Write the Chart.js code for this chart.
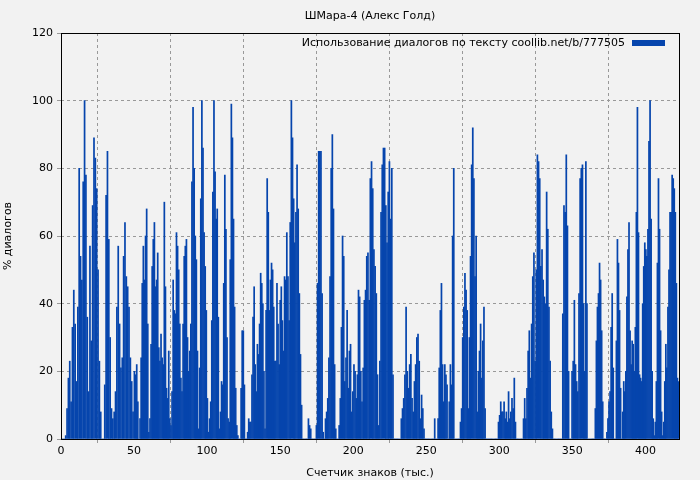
<!DOCTYPE html>
<html><head><meta charset="utf-8">
<script src="https://cdn.jsdelivr.net/npm/chart.js@4"></script>
<style>html,body{margin:0;background:#f2f2f2}</style></head>
<body><canvas id="c" width="700" height="480"></canvas>
<script>
const chartTitle = 'ШМара-4 (Алекс Голд)';
const seriesName = 'Использование диалогов по тексту coollib.net/b/777505';
const xTicks = [0,50,100,150,200,250,300,350,400];
const seg1 = [0,0,0,1,9,18,23,11,33,44,34,17,39,80,54,47,76,100,78,36,14,57,29,69,89,83,74,50,23,8,0,0,16,72,85,59,30,9,6,8,14,39,57,34,21,24,54,64,48,45,39,24,17,8,20];
const seg2 = [19,22,11,0,6,24,46,57,47,60,68,34,2,6,28,51,59,64,45,47,55,27,23,31,24,22,70,45,15,12,26,6,4,14,47,38,37,61,57,50,34,18,14,34,54,57,59,30,20,26,34,76,98,80,60,53,26,3,21,71,100,86,61,51,38,12,2,6];
const seg3 = [11,35,73,100,79,65,68,36,3,8,17,16,46,78,62,30,6,5,53,99,89,65,39,15,4,1,0,0,15,32,32,16,0,0,2,6,5,5,19,36,45,22,14,28,25,34,49,46,40,20,3,38,77,67,38,47,52,50,39,23,23,46,34,22,41,45,35,26,48];
const seg4 = [47,61,48,35,64,100,89,71,58,67,81,68,43,25,10,0,0,0,0,0,6,4,3,0,0,0,0,4,46,85,85,85,43,2,0,6,8,12,24,48,80,90,68,22,3,0,0,4,12,33,60,54,17,24,38,15,26,28,8,14,22,20,12,19,44,42];
const seg5 = [20,11,21,41,44,54,55,41,77,82,74,56,51,43,19,4,23,67,81,86,86,69,58,73,82,65,80,19,0,0,0,0,0,0,6,9,12,19,39,20,15,22,25,12,8,17,22,30,31,23,6,13,9,3,0,0,0,0,0,0,0,0,6];
const seg6 = [0,0,6,21,38,46,22,11,22,19,16,0,11,22,16,60,80,0,0,0,0,0,5,9,30,39,49,44,38,9,30,54,81,92,77,48,60,8,20,26,34,18,29,39,9,0,0,0,0,0,0,0,0,0,0,0,5,7,11,8,8,11,6,8,5,14,6];
const seg7 = [8,12,9,18,5,0,0,0,0,0,0,6,12,6,15,26,32,18,34,48,55,23,50,84,82,77,51,56,47,42,40,73,62,39,23,8,3,0,0,0,0,0,0,0,0,37,69,67,84,63,20,0,0,20,23,41,22,17,14,43,77,80,81,40,20];
const seg8 = [82,40,0,0,0,0,0,0,0,9,29,39,43,52,47,32,11,0,0,0,2,6,11,14,33,43,21,0,0,29,59,52,38,15,0,8,17,14,20,42,56,64,32,22,29,28,20,33,67,98,61,19,18,17,40,51,58,56,54,62,88,100,65,20,6,1,5,17,52,77,62,32,8,1,5,17,28,21,39,50,67,67,78,77,74,67,46,18,17];
const segments = [seg1, seg2, seg3, seg4, seg5, seg6, seg7, seg8];
const segStarts = [0, 50.7, 102.1, 153.4, 204.8, 256.2, 307.5, 358.9];
const xMax = 423;
const values = [].concat(...segments);
const labels = [];
segments.forEach((seg, k) => {
  const a = segStarts[k], b = k + 1 < segStarts.length ? segStarts[k + 1] : xMax;
  seg.forEach((_, j) => labels.push(a + (j + 0.5) * (b - a) / seg.length));
});

const font = {family: 'DejaVu Sans', size: 11};
const overlay = {
  id: 'overlay',
  beforeDraw(c) {
    const ctx = c.ctx; ctx.save(); ctx.fillStyle = '#f2f2f2'; ctx.fillRect(0,0,c.width,c.height); ctx.restore();
  },
  afterDraw(c) {
    const ctx = c.ctx, a = c.chartArea;
    ctx.save();
    ctx.strokeStyle = '#000'; ctx.lineWidth = 1;
    ctx.strokeRect(a.left + 0.5, a.top + 0.5, a.right - a.left, a.bottom - a.top);
    ctx.font = '11px "DejaVu Sans"'; ctx.fillStyle = '#000';
    ctx.textAlign = 'center'; ctx.textBaseline = 'middle';
    ctx.fillText(chartTitle, (a.left + a.right) / 2, 16);
    ctx.textAlign = 'right';
    ctx.fillText(seriesName, a.right - 54, 43);
    ctx.fillStyle = '#0645ad';
    ctx.fillRect(a.right - 47, 40, 33, 6);
    ctx.restore();
  }
};
new Chart(document.getElementById('c'), {
  type: 'bar',
  data: {labels, datasets: [{label: seriesName, data: values, backgroundColor: '#0645ad', borderWidth: 0, barPercentage: 1, categoryPercentage: 1}]},
  options: {
    responsive: false, animation: false,
    layout: {padding: {top: 33, right: 21, left: 0, bottom: 0}},
    plugins: {legend: {display: false}, tooltip: {enabled: false}},
    scales: {
      x: {type: 'linear', min: 0, max: xMax, offset: false,
        afterFit(s) { s.height = 41; },
        afterBuildTicks(s) { s.ticks = xTicks.map(v => ({value: v})); },
        grid: {color: '#999', tickLength: 4, drawTicks: true, lineWidth: 1},
        border: {display: false, dash: [3,3]},
        ticks: {color: '#000', font, padding: 2, maxRotation: 0},
        title: {display: true, text: 'Счетчик знаков (тыс.)', color: '#000', font, padding: 0}},
      y: {min: 0, max: 120,
        afterFit(s) { s.width = 61; },
        grid: {color: '#999', tickLength: 4},
        border: {display: false, dash: [3,3]},
        ticks: {stepSize: 20, color: '#000', font, padding: 4},
        title: {display: true, text: '% диалогов', color: '#000', font, padding: 2}}
    }
  },
  plugins: [overlay]
});
</script></body></html>
